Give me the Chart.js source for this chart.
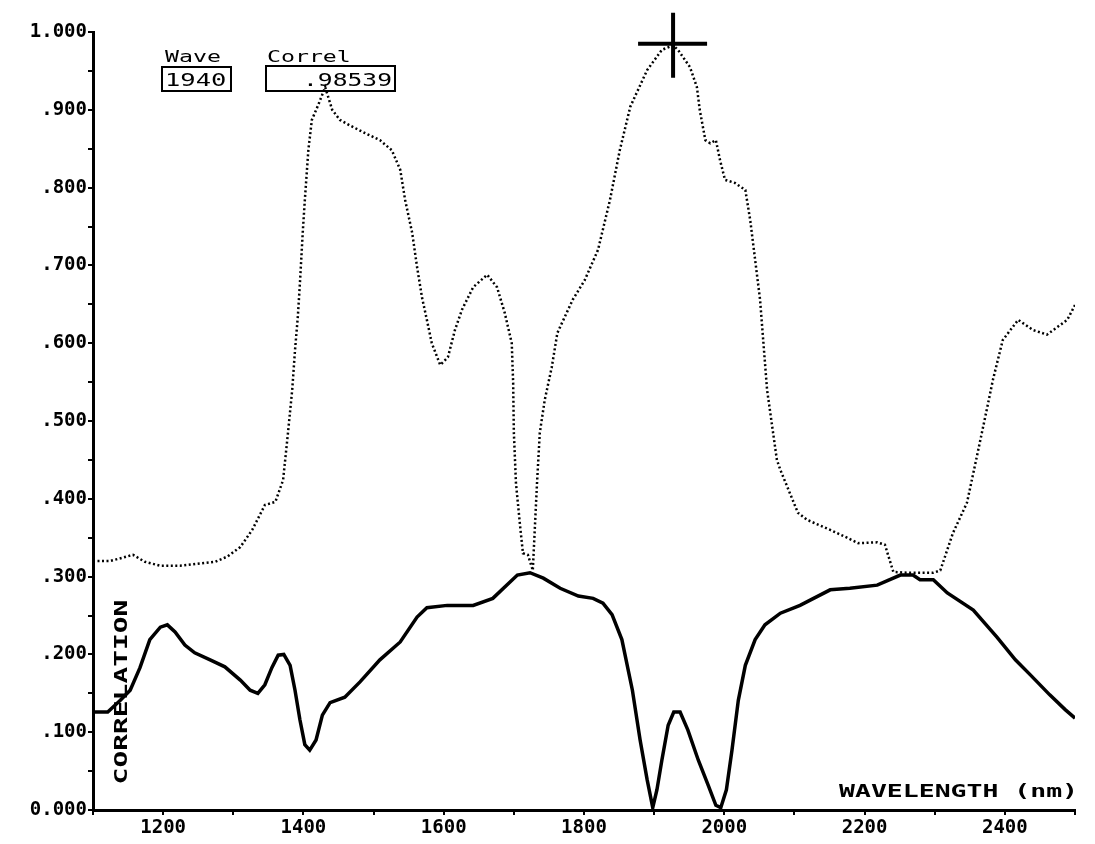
<!DOCTYPE html>
<html lang="en">
<head>
<meta charset="UTF-8">
<title>Correlation vs Wavelength</title>
<script src="https://cdn.jsdelivr.net/npm/chart.js"></script>
<style>
  body { margin: 0; background: #fff; }
</style>
</head>
<body>
<canvas id="corrChart" width="1095" height="844"></canvas>
<script>
// upper trace (dotted)
const dottedWave = [1100, 1124, 1141, 1157, 1174, 1196, 1224, 1253, 1274, 1292, 1310, 1327, 1345, 1360, 1371, 1378,
  1384, 1388, 1392, 1395, 1399, 1402, 1407, 1412, 1421, 1431, 1441, 1452, 1466, 1488, 1509, 1526, 1538, 1545, 1555,
  1562, 1569, 1576, 1583, 1595, 1606, 1616, 1626, 1642, 1662, 1676, 1687, 1697, 1699, 1700, 1703, 1709, 1713, 1720,
  1727, 1730, 1733, 1737, 1744, 1754, 1762, 1766, 1784, 1801, 1820, 1837, 1851, 1866, 1890, 1911, 1927, 1934, 1951,
  1961, 1965, 1973, 1980, 1988, 1994, 2001, 2015, 2030, 2037, 2044, 2051, 2061, 2075, 2080, 2105, 2118, 2151, 2175,
  2191, 2218, 2229, 2241, 2261, 2298, 2308, 2326, 2346, 2360, 2375, 2383, 2397, 2419, 2440, 2460, 2489, 2500];
const dottedCorr = [0.320, 0.320, 0.324, 0.328, 0.319, 0.314, 0.314, 0.317, 0.319, 0.326, 0.338, 0.360, 0.392, 0.396,
  0.424, 0.485, 0.540, 0.591, 0.634, 0.677, 0.742, 0.784, 0.848, 0.887, 0.906, 0.929, 0.900, 0.887, 0.880, 0.870,
  0.861, 0.848, 0.823, 0.784, 0.742, 0.698, 0.659, 0.630, 0.600, 0.572, 0.582, 0.617, 0.643, 0.672, 0.688, 0.672,
  0.639, 0.600, 0.549, 0.485, 0.420, 0.364, 0.330, 0.328, 0.308, 0.364, 0.420, 0.485, 0.527, 0.569, 0.613, 0.621,
  0.656, 0.681, 0.720, 0.784, 0.848, 0.904, 0.951, 0.977, 0.983, 0.977, 0.955, 0.929, 0.900, 0.861, 0.857, 0.861,
  0.835, 0.810, 0.806, 0.797, 0.758, 0.707, 0.656, 0.540, 0.450, 0.437, 0.382, 0.373, 0.360, 0.350, 0.343, 0.344,
  0.341, 0.306, 0.305, 0.305, 0.308, 0.356, 0.395, 0.454, 0.518, 0.553, 0.604, 0.630, 0.617, 0.611, 0.630, 0.649];

// lower trace (solid)
const solidWave = [1100, 1121, 1139, 1153, 1167, 1181, 1196, 1206, 1217, 1231, 1245, 1267, 1288, 1310, 1324, 1335,
  1345, 1355, 1364, 1372, 1381, 1388, 1395, 1402, 1409, 1418, 1427, 1438, 1459, 1481, 1509, 1538, 1562, 1576, 1605,
  1642, 1670, 1705, 1723, 1742, 1766, 1792, 1813, 1827, 1840, 1854, 1869, 1880, 1890, 1898, 1904, 1911, 1920, 1928,
  1937, 1948, 1963, 1977, 1988, 1995, 2003, 2011, 2020, 2030, 2044, 2058, 2080, 2108, 2151, 2179, 2218, 2251, 2269,
  2279, 2298, 2318, 2355, 2389, 2415, 2436, 2464, 2486, 2500];
const solidCorr = [0.126, 0.126, 0.141, 0.154, 0.183, 0.219, 0.235, 0.238, 0.229, 0.212, 0.202, 0.193, 0.184, 0.167,
  0.154, 0.150, 0.161, 0.183, 0.199, 0.200, 0.186, 0.154, 0.116, 0.084, 0.077, 0.090, 0.122, 0.138, 0.145, 0.165,
  0.193, 0.216, 0.248, 0.260, 0.263, 0.263, 0.272, 0.302, 0.305, 0.298, 0.285, 0.275, 0.272, 0.266, 0.251, 0.219,
  0.154, 0.090, 0.039, 0.003, 0.026, 0.064, 0.109, 0.126, 0.126, 0.103, 0.064, 0.032, 0.006, 0.003, 0.026, 0.077,
  0.141, 0.186, 0.219, 0.238, 0.253, 0.263, 0.283, 0.285, 0.289, 0.302, 0.302, 0.296, 0.296, 0.279, 0.257, 0.222,
  0.193, 0.174, 0.148, 0.129, 0.118];

const xTickLabels = [1200, 1400, 1600, 1800, 2000, 2200, 2400];
const cursorPos = { wave: 1927, corr: 0.985 };
const readout = { wave: '1940', correl: '.98539' };

const toPoints = (xs, ys) => xs.map((x, i) => ({ x: x, y: ys[i] }));

const fontMono = "'DejaVu Sans Mono', 'Liberation Mono', monospace";

function fmtCorr(v) {
  const n = Math.round(v * 1000);
  if (n % 100 !== 0) return '';
  if (n === 0) return '0.000';
  if (n === 1000) return '1.000';
  return '.' + String(n).padStart(3, '0');
}

// wide plotter-style lettering: stretch glyphs along the text direction
function wideText(ctx, text, x, y, sx, align, angle) {
  ctx.save();
  ctx.translate(x, y);
  if (angle) ctx.rotate(angle);
  ctx.scale(sx, 1);
  ctx.textAlign = align;
  ctx.fillText(text, 0, 0);
  ctx.restore();
}

// cursor cross, readout boxes and axis captions
const overlay = {
  id: 'overlay',
  afterDraw(chart) {
    const ctx = chart.ctx;
    const xs = chart.scales.x, ys = chart.scales.y;
    ctx.save();
    ctx.strokeStyle = '#000';
    ctx.fillStyle = '#000';
    ctx.textBaseline = 'alphabetic';

    const cx = xs.getPixelForValue(cursorPos.wave);
    const cy = ys.getPixelForValue(cursorPos.corr);
    ctx.lineWidth = 4;
    ctx.beginPath();
    ctx.moveTo(cx - 35, cy); ctx.lineTo(cx + 34, cy);
    ctx.moveTo(cx, cy - 31); ctx.lineTo(cx, cy + 34);
    ctx.stroke();

    // readout
    ctx.font = "16px " + fontMono;
    wideText(ctx, 'Wave', 165, 62, 1.45, 'left');
    wideText(ctx, 'Correl', 267, 62, 1.45, 'left');
    ctx.lineWidth = 2;
    ctx.strokeRect(162, 67, 69, 24);
    ctx.strokeRect(266, 66, 129, 25);
    ctx.font = "17px " + fontMono;
    wideText(ctx, readout.wave, 165, 86, 1.5, 'left');
    wideText(ctx, readout.correl, 392, 86, 1.45, 'right');

    // axis captions
    ctx.font = "bold 18px " + fontMono;
    wideText(ctx, 'WAVELENGTH (nm)', 1078, 797, 1.47, 'right');
    wideText(ctx, 'CORRELATION', 127, 692, 1.55, 'center', -Math.PI / 2);
    ctx.restore();
  }
};

new Chart(document.getElementById('corrChart'), {
  type: 'line',
  data: {
    datasets: [{
      data: toPoints(dottedWave, dottedCorr),
      borderColor: '#000',
      borderWidth: 2.5,
      borderDash: [2, 2.5],
      pointRadius: 0,
      tension: 0
    }, {
      data: toPoints(solidWave, solidCorr),
      borderColor: '#000',
      borderWidth: 3.5,
      pointRadius: 0,
      tension: 0
    }]
  },
  options: {
    responsive: false,
    animation: false,
    layout: { padding: { top: 32, right: 20, left: 0, bottom: 0 } },
    plugins: { legend: { display: false }, tooltip: { enabled: false } },
    scales: {
      x: {
        type: 'linear',
        min: 1100,
        max: 2500,
        afterFit: s => { s.height = 34; },
        border: { color: '#000', width: 3 },
        grid: { drawOnChartArea: false, color: '#000', tickLength: 5, lineWidth: 2 },
        ticks: {
          stepSize: 100,
          autoSkip: false,
          maxRotation: 0,
          padding: 2,
          color: '#000',
          font: { family: fontMono, size: 19, weight: 'bold' },
          callback: v => xTickLabels.includes(v) ? String(v) : ''
        }
      },
      y: {
        min: 0,
        max: 1,
        afterFit: s => { s.width = 93; },
        border: { color: '#000', width: 3 },
        grid: { drawOnChartArea: false, color: '#000', tickLength: 5, lineWidth: 2 },
        ticks: {
          stepSize: 0.05,
          autoSkip: false,
          padding: 1,
          color: '#000',
          font: { family: fontMono, size: 19, weight: 'bold' },
          callback: v => fmtCorr(v)
        }
      }
    }
  },
  plugins: [overlay]
});
</script>
</body>
</html>
